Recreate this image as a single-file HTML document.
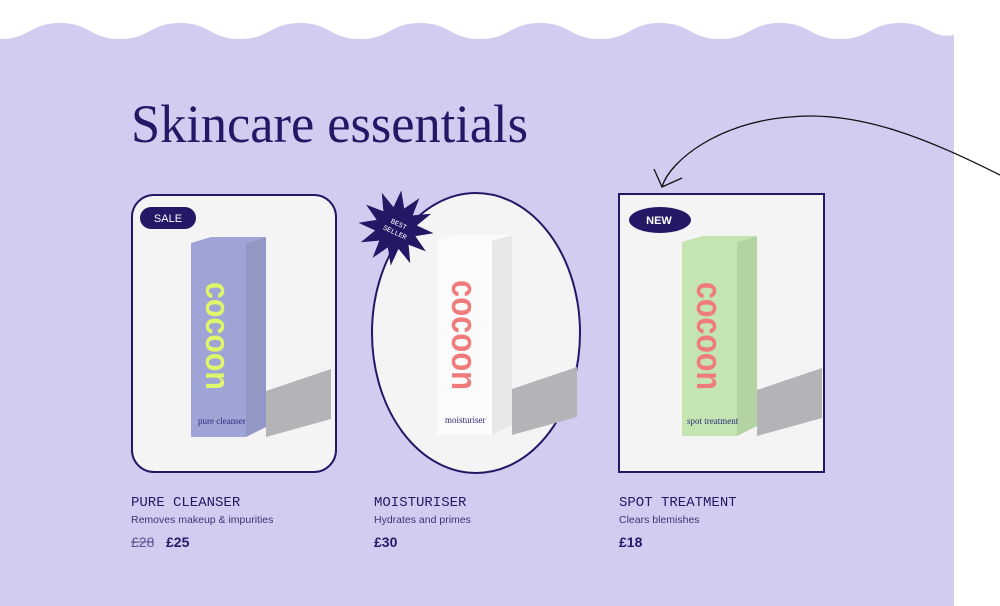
<!DOCTYPE html>
<html><head><meta charset="utf-8"><style>
html,body{margin:0;padding:0;background:#fff;width:1000px;height:606px;overflow:hidden}
</style></head><body>
<svg width="1000" height="606" viewBox="0 0 1000 606" xmlns="http://www.w3.org/2000/svg">
<defs>
<g id="box">
  <polygon points="75,150 140,128 140,178 75,196" fill="#b4b4b8"/>
  <polygon points="55,2 75,-4 75,186 55,196" fill="currentColor"/>
  <polygon points="55,2 75,-4 75,186 55,196" fill="#000" opacity="0.08"/>
  <polygon points="0,2 55,2 75,-4 20,-4" fill="currentColor"/>
  <rect x="0" y="2" width="55" height="194" fill="currentColor"/>
</g>
</defs>
<path d="M0,39 C30,39 30,23 60,23 C90,23 90,39 120,39 C150,39 150,23 180,23 C210,23 210,39 240,39 C270,39 270,23 300,23 C330,23 330,39 360,39 C390,39 390,23 420,23 C450,23 450,39 480,39 C510,39 510,23 540,23 C570,23 570,39 600,39 C630,39 630,23 660,23 C690,23 690,39 720,39 C750,39 750,23 780,23 C810,23 810,39 840,39 C870,39 870,23 900,23 C930,23 930,39 954,35 L954,606 L0,606 Z" fill="#d2cdf0"/>
<text x="131" y="142" font-family="Liberation Serif, serif" font-size="54" fill="#231866" textLength="397" lengthAdjust="spacingAndGlyphs">Skincare essentials</text>

<path d="M1000,175 C930,140 860,110 790,117 C720,122 670,160 662,187" fill="none" stroke="#111" stroke-width="1.3"/>
<path d="M654,169 L662,187 L682,178" fill="none" stroke="#111" stroke-width="1.3"/>

<rect x="132" y="195" width="204" height="277" rx="22" fill="#f4f4f5" stroke="#231866" stroke-width="2"/>
<g transform="translate(191,241)" color="#9ea5d6"><use href="#box"/></g>
<text transform="translate(206,282) rotate(90)" font-family="Liberation Sans, sans-serif" font-weight="bold" font-size="34" fill="#dff56a" textLength="108" lengthAdjust="spacingAndGlyphs">cocoon</text>
<text x="198" y="424" font-family="Liberation Serif, serif" font-size="9" fill="#2d2a7a">pure cleanser</text>
<rect x="140" y="207" width="56" height="22" rx="11" fill="#231866"/>
<text x="168" y="222" text-anchor="middle" font-family="Liberation Sans, sans-serif" font-size="11" fill="#fff">SALE</text>

<ellipse cx="476" cy="333" rx="104" ry="140" fill="#f4f4f5" stroke="#231866" stroke-width="2"/>
<g transform="translate(437,239)" color="#fbfbfb"><use href="#box"/></g>
<text transform="translate(452,280) rotate(90)" font-family="Liberation Sans, sans-serif" font-weight="bold" font-size="36" fill="#f07b7b" textLength="110" lengthAdjust="spacingAndGlyphs">cocoon</text>
<text x="445" y="423" font-family="Liberation Serif, serif" font-size="9" fill="#2d2a7a">moisturiser</text>
<polygon transform="translate(396,228) rotate(8)" fill="#231866" points="38,0 20.3,5.4 32.9,19 14.8,14.8 19,32.9 5.4,20.3 0,38 -5.4,20.3 -19,32.9 -14.8,14.8 -32.9,19 -20.3,5.4 -38,0 -20.3,-5.4 -32.9,-19 -14.8,-14.8 -19,-32.9 -5.4,-20.3 0,-38 5.4,-20.3 19,-32.9 14.8,-14.8 32.9,-19 20.3,-5.4"/>
<text transform="translate(397,228) rotate(25)" text-anchor="middle" font-family="Liberation Mono, monospace" font-size="7" fill="#fff"><tspan x="0" y="-2">BEST</tspan><tspan x="0" y="7">SELLER</tspan></text>

<rect x="619" y="194" width="205" height="278" fill="#f4f4f5" stroke="#231866" stroke-width="2"/>
<g transform="translate(682,240)" color="#c4e5b1"><use href="#box"/></g>
<text transform="translate(697,282) rotate(90)" font-family="Liberation Sans, sans-serif" font-weight="bold" font-size="36" fill="#f07b7b" textLength="108" lengthAdjust="spacingAndGlyphs">cocoon</text>
<text x="687" y="424" font-family="Liberation Serif, serif" font-size="9" fill="#2d2a7a">spot treatment</text>
<ellipse cx="660" cy="220" rx="31" ry="13" fill="#231866"/>
<text x="659" y="224" text-anchor="middle" font-family="Liberation Sans, sans-serif" font-weight="bold" font-size="11" fill="#fff">NEW</text>

<g font-family="Liberation Mono, monospace" font-size="14" fill="#231866">
<text x="131" y="506">PURE CLEANSER</text>
<text x="374" y="506">MOISTURISER</text>
<text x="619" y="506">SPOT TREATMENT</text>
</g>
<g font-family="Liberation Sans, sans-serif" font-size="10.5" fill="#3a3570">
<text x="131" y="523">Removes makeup &amp; impurities</text>
<text x="374" y="523">Hydrates and primes</text>
<text x="619" y="523">Clears blemishes</text>
</g>
<g font-family="Liberation Sans, sans-serif" font-size="14" fill="#231866">
<text x="131" y="547" fill="#5a5590">£28</text>
<line x1="131" y1="542" x2="154" y2="542" stroke="#5a5590" stroke-width="1"/>
<text x="166" y="547" font-weight="bold">£25</text>
<text x="374" y="547" font-weight="bold">£30</text>
<text x="619" y="547" font-weight="bold">£18</text>
</g>
</svg>
</body></html>
